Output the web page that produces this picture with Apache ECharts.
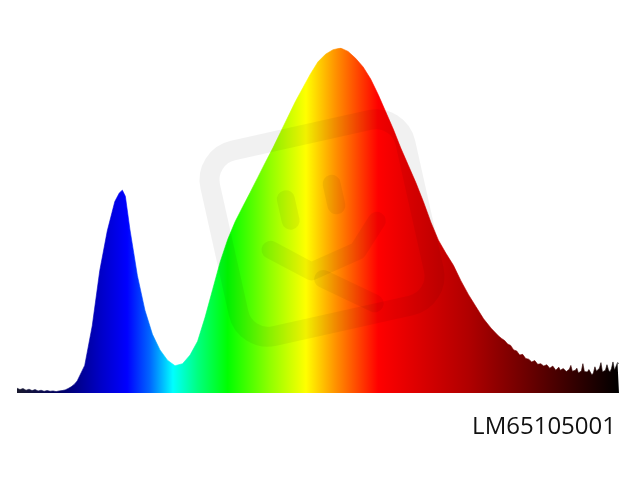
<!DOCTYPE html>
<html>
<head>
<meta charset="utf-8">
<script src="https://cdn.jsdelivr.net/npm/echarts@6/dist/echarts.min.js"></script>
<style>html,body{margin:0;padding:0;background:#fff;}#c{width:640px;height:480px;}</style>
</head>
<body>
<div id="c"></div>
<script>
// Wavelengths (nm) and relative spectral intensity
var wavelengths = [
  380,382,384,386,388,390,392,394,396,398,400,402,404,406,408,410,412,414,416,418,
  420,425,430,435,440,445,448,450,452,455,460,465,470,475,480,485,490,495,
  500,505,510,515,520,525,530,535,540,545,550,555,560,565,570,575,580,585,590,595,
  600,605,610,615,620,625,630,635,640,645,650,655,660,665,670,675,680,685,690,695,
  700,702,704,706,708,710,712,714,716,718,720,722,724,726,728,730,732,734,736,738,
  740,741,742,743,744,745,746,747,748,749,750,751,752,753,754,755,756,757,758,759,
  760,761,762,763,764,765,766,767,768,769,770,771,772,773,774,775,776,777,778,779,780
];
var intensity = [
  0.014,0.010,0.013,0.008,0.011,0.007,0.010,0.006,0.008,0.005,0.007,0.005,0.006,0.004,0.006,0.007,0.009,0.013,0.018,0.025,
  0.035,0.080,0.195,0.355,0.470,0.555,0.580,0.588,0.570,0.475,0.340,0.240,0.170,0.125,0.095,0.079,0.085,0.110,
  0.150,0.220,0.300,0.380,0.445,0.497,0.540,0.582,0.625,0.668,0.710,0.755,0.800,0.845,0.885,0.925,0.960,0.982,0.995,1.000,
  0.990,0.970,0.945,0.910,0.865,0.815,0.765,0.710,0.660,0.610,0.555,0.495,0.443,0.405,0.370,0.325,0.285,0.250,0.215,0.188,
  0.165,0.158,0.152,0.142,0.138,0.125,0.122,0.110,0.112,0.100,0.098,0.090,0.094,0.083,0.085,0.078,0.082,0.072,0.078,0.066,
  0.075,0.066,0.064,0.071,0.070,0.062,0.058,0.069,0.080,0.063,0.060,0.066,0.072,0.058,0.055,0.064,0.085,0.062,0.058,0.061,
  0.068,0.070,0.052,0.058,0.076,0.063,0.060,0.072,0.088,0.061,0.058,0.066,0.082,0.067,0.060,0.071,0.090,0.066,0.062,0.088,0.085
];
var modelLabel = 'LM65105001';

var points = wavelengths.map(function (w, i) { return [w, intensity[i]]; });

function spectrumGradient() {
  return new echarts.graphic.LinearGradient(0, 0, 1, 0, [
    { offset: 0.00, color: '#1a1a2e' },
    { offset: 0.07, color: '#000060' },
    { offset: 0.10, color: '#00008c' },
    { offset: 0.14, color: '#0000c8' },
    { offset: 0.183, color: '#0000ff' },
    { offset: 0.22, color: '#0064ff' },
    { offset: 0.259, color: '#00ffff' },
    { offset: 0.30, color: '#00ff80' },
    { offset: 0.35, color: '#00ff00' },
    { offset: 0.42, color: '#90ff00' },
    { offset: 0.48, color: '#ffff00' },
    { offset: 0.53, color: '#ff9000' },
    { offset: 0.60, color: '#ff0000' },
    { offset: 0.75, color: '#b00000' },
    { offset: 0.85, color: '#6a0000' },
    { offset: 0.93, color: '#300000' },
    { offset: 1.00, color: '#000000' }
  ]);
}

var wm = 'rgba(0,0,0,0.055)';
var chart = echarts.init(document.getElementById('c'), null, { renderer: 'canvas' });
chart.setOption({
  backgroundColor: '#ffffff',
  animation: false,
  grid: { left: 17, right: 21, top: 48, bottom: 87 },
  xAxis: { type: 'value', min: 380, max: 780, show: false },
  yAxis: { type: 'value', min: 0, max: 1, show: false },
  series: [{
    type: 'line',
    data: points,
    smooth: false,
    showSymbol: false,
    lineStyle: { width: 0.6, color: spectrumGradient() },
    areaStyle: { color: spectrumGradient(), opacity: 1 },
    z: 2
  }],
  graphic: [
    {
      type: 'group',
      x: 322, y: 228,
      rotation: 0.22,
      silent: true,
      children: [
        { type: 'rect', z: 100, shape: { x: -100, y: -95, width: 200, height: 190, r: 30 },
          style: { fill: 'none', stroke: wm, lineWidth: 20 } },
        { type: 'rect', z: 100, shape: { x: -38, y: -45, width: 18, height: 40, r: 9 },
          style: { fill: wm } },
        { type: 'rect', z: 100, shape: { x: 10, y: -50, width: 18, height: 40, r: 9 },
          style: { fill: wm } },
        { type: 'polyline', z: 100, shape: { points: [[-55, 10], [-20, 40], [30, 30], [55, 5]] },
          style: { stroke: wm, lineWidth: 18, lineCap: 'round', lineJoin: 'round', fill: 'none' } },
        { type: 'polyline', z: 100, shape: { points: [[-10, 50], [35, 85]] },
          style: { stroke: wm, lineWidth: 18, lineCap: 'round', fill: 'none' } }
      ]
    },
    {
      type: 'text',
      right: 24,
      top: 415,
      z: 100,
      style: {
        text: modelLabel,
        font: '500 24px "Open Sans", "Noto Sans", sans-serif',
        fill: '#111111'
      }
    }
  ]
});
</script>
</body>
</html>
